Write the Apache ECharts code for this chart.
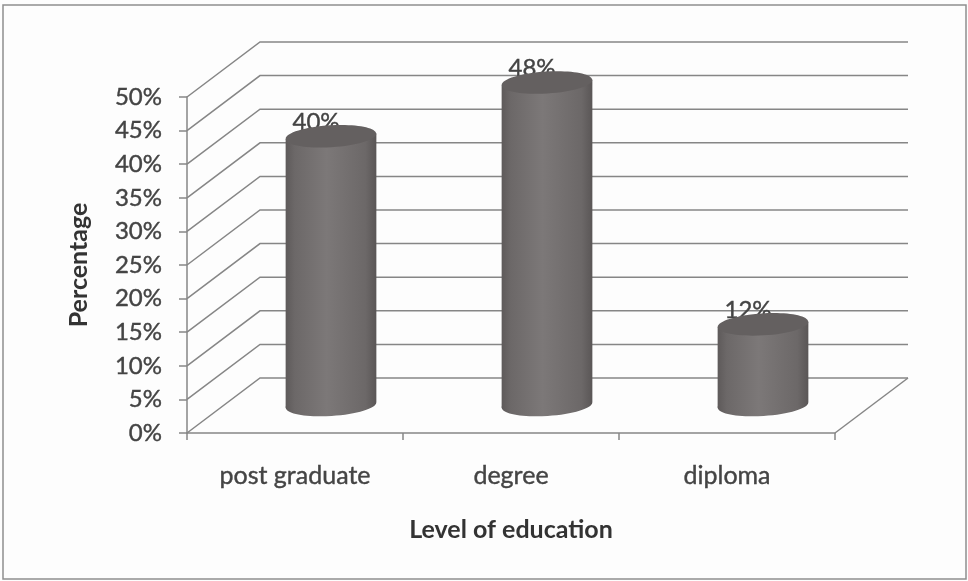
<!DOCTYPE html>
<html>
<head>
<meta charset="utf-8">
<style>
html,body{margin:0;padding:0;background:#fdfdfd;}
#chart{width:968px;height:581px;filter:blur(0.6px);}
</style>
<script src="https://cdn.jsdelivr.net/npm/echarts@6/dist/echarts.min.js"></script>
</head>
<body>
<div id="chart"></div>
<script>
var categories = ['post graduate', 'degree', 'diploma'];
var percentages = [40, 48, 12];
var yTicks = [0, 5, 10, 15, 20, 25, 30, 35, 40, 45, 50];
var xTitle = 'Level of education';
var yTitle = 'Percentage';

var FONT = 'Lato, "Open Sans", sans-serif';
var TEXT = '#444444';
var LINE = '#868686';
var DEPTH_X = 73, DEPTH_Y = -55;

function wallItem(params, api) {
  var v = api.value(1);
  var cs = params.coordSys;
  var y = api.coord([0, v])[1];
  var x0 = cs.x, x1 = cs.x + cs.width;
  var kids = [{
    type: 'polyline',
    shape: { points: [[x0, y], [x0 + DEPTH_X, y + DEPTH_Y], [x1 + DEPTH_X, y + DEPTH_Y]] },
    style: { stroke: LINE, lineWidth: 1.5, fill: 'none' }
  }];
  if (v === 0) {
    kids.push({
      type: 'line',
      shape: { x1: x1, y1: y, x2: x1 + DEPTH_X, y2: y + DEPTH_Y },
      style: { stroke: LINE, lineWidth: 1.5 }
    });
  }
  return { type: 'group', children: kids };
}

function cylinderItem(params, api) {
  var idx = api.value(0), v = api.value(1);
  var top = api.coord([idx, v]);
  var base = api.coord([idx, 0]);
  var band = api.size([1, 0])[0];
  var rx = band * 0.21, ry = 11, tilt = 0.06;
  var dy = Math.sin(tilt) * rx;
  var cx = top[0] + band / 6;
  var ty = top[1] - 28, by = base[1] - 28;
  var body = {
    type: 'linearGradient', x: 0, y: 0, x2: 1, y2: 0,
    colorStops: [
      { offset: 0, color: '#5e5a5a' },
      { offset: 0.1, color: '#6c6868' },
      { offset: 0.45, color: '#7c7878' },
      { offset: 0.88, color: '#6c6868' },
      { offset: 1, color: '#5a5656' }
    ]
  };
  return {
    type: 'group',
    children: [
      {
        type: 'text',
        style: {
          x: cx - 15, y: ty - 14, text: percentages[idx] + '%',
          font: '24px ' + FONT, fill: TEXT, align: 'center', verticalAlign: 'middle',
          stroke: TEXT, lineWidth: 0.4
        }
      },
      {
        type: 'ellipse',
        shape: { cx: cx, cy: by, rx: rx, ry: ry },
        rotation: tilt, originX: cx, originY: by,
        style: { fill: body }
      },
      {
        type: 'polygon',
        shape: { points: [[cx - rx, ty + dy], [cx + rx, ty - dy], [cx + rx, by - dy], [cx - rx, by + dy]] },
        style: { fill: body }
      },
      {
        type: 'ellipse',
        shape: { cx: cx, cy: ty, rx: rx, ry: ry },
        rotation: tilt, originX: cx, originY: ty,
        style: { fill: '#646060' }
      }
    ]
  };
}

var chart = echarts.init(document.getElementById('chart'), null, { renderer: 'canvas' });
chart.setOption({
  animation: false,
  backgroundColor: '#fdfdfd',
  graphic: [{
    type: 'rect',
    shape: { x: 3, y: 5, width: 963, height: 574 },
    style: { fill: 'none', stroke: '#8f8f8f', lineWidth: 1.5 },
    silent: true
  }],
  grid: { left: 187, right: 133, top: 97, bottom: 148 },
  xAxis: {
    type: 'category',
    data: categories,
    name: xTitle,
    nameLocation: 'middle',
    nameGap: 84,
    nameTextStyle: { fontFamily: FONT, fontSize: 25, fontWeight: 'bold', color: '#333333' },
    axisLine: { lineStyle: { color: LINE, width: 1.5 } },
    axisTick: { show: true, alignWithLabel: false, length: 7, lineStyle: { color: LINE, width: 1.5 } },
    axisLabel: { fontFamily: FONT, fontSize: 25, color: TEXT, margin: 30, textBorderColor: TEXT, textBorderWidth: 0.4 }
  },
  yAxis: {
    type: 'value',
    min: 0,
    max: 50,
    interval: 5,
    name: yTitle,
    nameLocation: 'middle',
    nameGap: 96,
    nameTextStyle: { fontFamily: FONT, fontSize: 25, fontWeight: 'bold', color: '#333333' },
    axisLine: { show: true, lineStyle: { color: LINE, width: 1.5 } },
    axisTick: { show: true, length: 8, lineStyle: { color: LINE, width: 1.5 } },
    axisLabel: { fontFamily: FONT, fontSize: 24, color: TEXT, margin: 25, padding: [4, 0, 0, 0], textBorderColor: TEXT, textBorderWidth: 0.4, formatter: '{value}%' },
    splitLine: { show: false }
  },
  series: [
    {
      type: 'custom',
      silent: true,
      clip: false,
      renderItem: wallItem,
      encode: { x: 0, y: 1 },
      data: yTicks.map(function (v) { return [0, v]; })
    },
    {
      type: 'custom',
      silent: true,
      clip: false,
      renderItem: cylinderItem,
      encode: { x: 0, y: 1 },
      data: percentages.map(function (v, i) { return [i, v]; })
    }
  ]
});
</script>
</body>
</html>
